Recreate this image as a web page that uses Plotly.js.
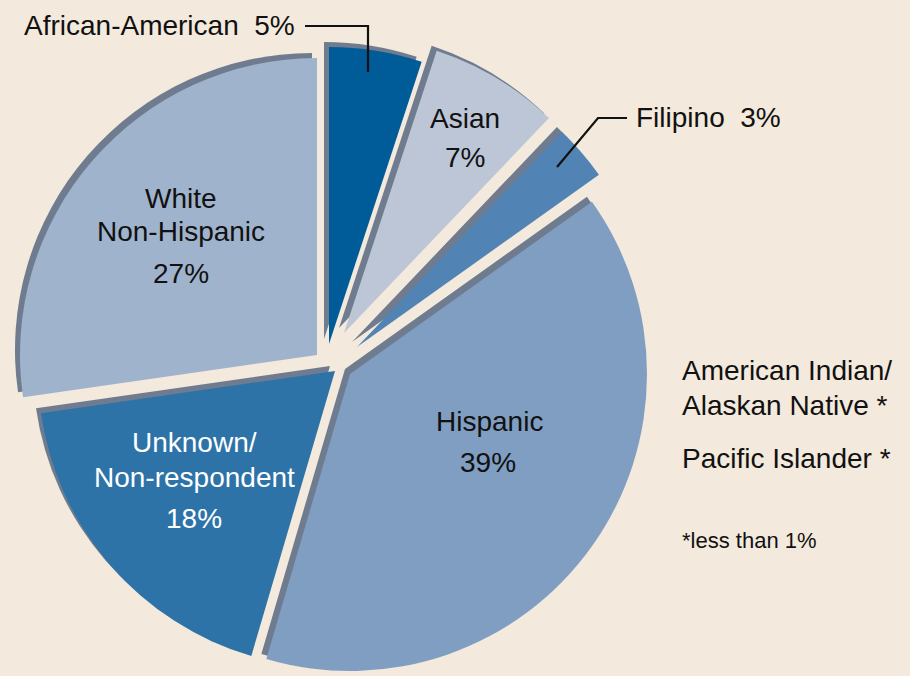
<!DOCTYPE html>
<html><head><meta charset="utf-8">
<script src="https://cdn.plot.ly/plotly-3.0.1.min.js"></script>
<style>html,body{margin:0;padding:0;background:#f3e9dc;}</style>
</head><body><div id="chart" style="width:910px;height:676px;"></div>
<script>
// ---- data ----
const categories = ["African-American","Asian","Filipino","Hispanic","Unknown/Non-respondent","White Non-Hispanic"];
const values = [5,7,3,39,18,27];
const percentLabels = ["5%","7%","3%","39%","18%","27%"];
const minorGroups = ["American Indian/<br>Alaskan Native *","Pacific Islander *"];
const minorNote = "*less than 1%";

// ---- style / layout ----
const W = 910, H = 676, R = 297;
const bg = "#f3e9dc";
const colors = ["#005c99","#bcc6d6","#5183b4","#7f9ec2","#2d73a7","#a0b3cc"];
const shadowColor = "#6f7c8f";
const centers = [[329,344],[344,333],[357,347],[350,374],[335,371],[317,355]]; // per-slice explode centres (px)
const shadowOffset = [-5,-5];
const FONT = "Liberation Sans, Arial, sans-serif";

function domainFor(cx, cy){
  return {x:[(cx-R)/W,(cx+R)/W], y:[(H-cy-R)/H,(H-cy+R)/H]};
}
const traces = [];
[true,false].forEach(isShadow => {
  categories.forEach((c,i) => {
    const cx = centers[i][0] + (isShadow ? shadowOffset[0] : 0);
    const cy = centers[i][1] + (isShadow ? shadowOffset[1] : 0);
    traces.push({
      type:'pie', labels:categories, values:values, sort:false,
      direction:'clockwise', rotation:0, domain:domainFor(cx,cy),
      textinfo:'none', hoverinfo:'skip', showlegend:false,
      marker:{colors:categories.map((_,j)=> j===i ? (isShadow?shadowColor:colors[i]) : 'rgba(0,0,0,0)'), line:{width:0}}
    });
  });
});

const px = x => x/W, py = y => 1 - y/H;
function ann(text, x, y, opts){
  return Object.assign({text:text, x:px(x), y:py(y), xref:'paper', yref:'paper', showarrow:false,
    xanchor:'center', yanchor:'middle', font:{family:FONT, size:28, color:'#111'}}, opts||{});
}
const NB = "\u00a0\u00a0";
const annotations = [
  ann(categories[0] + NB + percentLabels[0], 22, 25, {xanchor:'left'}),
  ann(categories[1], 465, 118),
  ann(percentLabels[1], 465, 158),
  ann(categories[2] + NB + percentLabels[2], 634, 117, {xanchor:'left'}),
  ann("White", 181, 198),
  ann("Non-Hispanic", 181, 232),
  ann(percentLabels[5], 181, 273),
  ann("Unknown/", 194, 442, {font:{family:FONT,size:28,color:'#ffffff'}}),
  ann("Non-respondent", 194, 477, {font:{family:FONT,size:28,color:'#ffffff'}}),
  ann(percentLabels[4], 194, 518, {font:{family:FONT,size:28,color:'#ffffff'}}),
  ann(categories[3], 489, 421),
  ann(percentLabels[3], 488, 462),
  ann("American Indian/", 680, 370, {xanchor:'left'}),
  ann("Alaskan Native *", 680, 405, {xanchor:'left'}),
  ann(minorGroups[1], 680, 458, {xanchor:'left'}),
  ann(minorNote, 680, 540, {xanchor:'left', font:{family:FONT, size:22, color:'#111'}})
];

function path(pts){
  return pts.map((p,k)=>(k?'L':'M')+px(p[0])+','+py(p[1])).join(' ');
}
const shapes = [
  {type:'path', xref:'paper', yref:'paper', path:path([[305,26],[368,26],[368,72]]), line:{color:'#111', width:2.2}},
  {type:'path', xref:'paper', yref:'paper', path:path([[627,118],[598,118],[557,167]]), line:{color:'#111', width:2.2}}
];

Plotly.newPlot('chart', traces, {
  width:W, height:H, margin:{l:0,r:0,t:0,b:0},
  paper_bgcolor:bg, plot_bgcolor:bg, showlegend:false,
  annotations:annotations, shapes:shapes
}, {staticPlot:true, displayModeBar:false});
</script></body></html>
